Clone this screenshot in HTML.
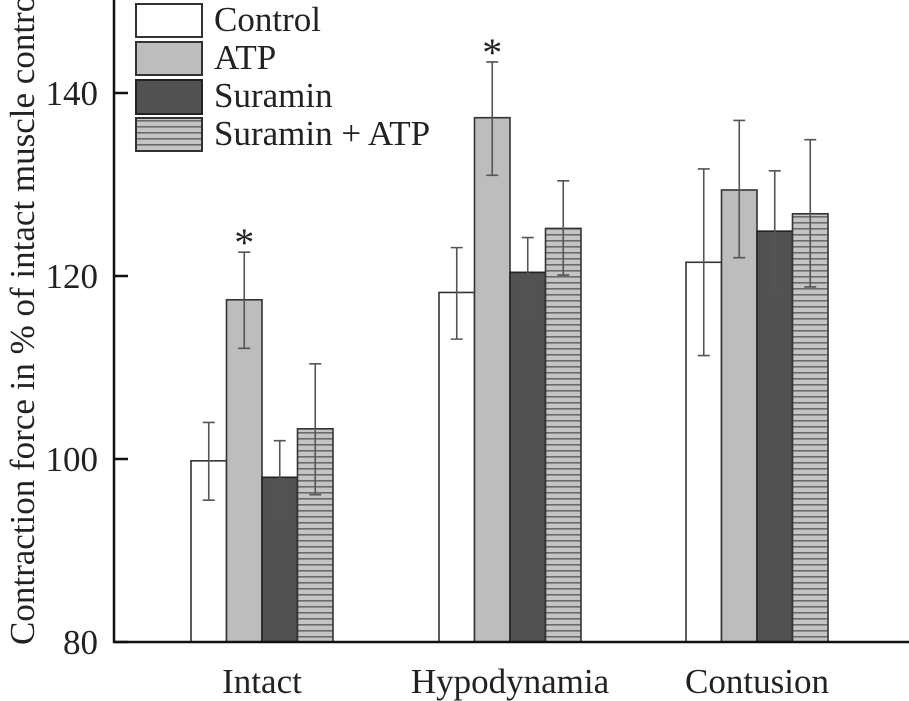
<!DOCTYPE html>
<html><head><meta charset="utf-8"><style>
html,body{margin:0;padding:0;background:#fff;}
svg{display:block;font-family:"Liberation Serif",serif;}
</style></head><body>
<svg width="909" height="701" viewBox="0 0 909 701">
<defs>
<pattern id="hatch" patternUnits="userSpaceOnUse" width="8" height="6">
<rect width="8" height="6" fill="#c4c4c4"/>
<rect y="0" width="8" height="1.6" fill="#6a6a6a"/>
</pattern>
</defs>
<g id="plot"></g>
<line x1="114" y1="0" x2="114" y2="643" stroke="#111" stroke-width="2.5"/>
<line x1="113" y1="642" x2="909" y2="642" stroke="#111" stroke-width="2.5"/>
<text transform="translate(34,645) rotate(-90)" font-size="35" fill="#222">Contraction force in % of intact muscle control</text>
<g>
<rect x="136" y="4" width="66" height="33" fill="#fff" stroke="#333" stroke-width="2"/>
<text x="214" y="31" font-size="35" fill="#222">Control</text>
<rect x="136" y="42" width="66" height="33" fill="#bdbdbd" stroke="#333" stroke-width="2"/>
<text x="214" y="69" font-size="35" fill="#222">ATP</text>
<rect x="136" y="80" width="66" height="34" fill="#525252" stroke="#222" stroke-width="2"/>
<text x="214" y="107" font-size="35" fill="#222">Suramin</text>
<rect x="136" y="118" width="66" height="33" fill="url(#hatch)" stroke="#333" stroke-width="2"/>
<text x="214" y="145" font-size="35" fill="#222">Suramin + ATP</text>
</g>
</svg>
<script>
const categories = ["Intact","Hypodynamia","Contusion"];
const seriesNames = ["Control","ATP","Suramin","Suramin + ATP"];
const controlVals = [99.8, 118.2, 121.5];
const atpVals = [117.4, 137.3, 129.4];
const suraminVals = [98.0, 120.4, 124.9];
const surAtpVals = [103.3, 125.2, 126.8];
const errLow = [[95.5,113.1,111.3],[112.1,131.0,122.0],[94.2,116.0,118.3],[96.1,120.1,118.8]];
const errHigh = [[104.0,123.1,131.7],[122.6,143.4,137.0],[102.0,124.2,131.5],[110.4,130.4,134.9]];
const yTicks = [80,100,120,140];
const stars = [[0,1],[1,1]];
const fills = ["#fff","#bdbdbd","#525252","url(#hatch)"];
const NS = "http://www.w3.org/2000/svg";
const svg = document.querySelector("svg");
const plot = document.getElementById("plot");
function y(v){ return 642 - (v-80)*(642-93)/60; }
const groupStart = [191, 439, 686], bw = 35.5;
function bx(g,s){ return groupStart[g] + s*bw; }
const series = [controlVals, atpVals, suraminVals, surAtpVals];
function mk(tag, attrs){ const e=document.createElementNS(NS,tag); for(const k in attrs) e.setAttribute(k,attrs[k]); return e; }
yTicks.forEach(t=>{
  const l = mk("line",{x1:114,x2:128,y1:y(t),y2:y(t),stroke:"#111","stroke-width":2.5});
  
  
  svg.appendChild(l);
  const tx = mk("text",{x:98,y:y(t)+12,"text-anchor":"end","font-size":35,fill:"#222"});
  
  
  tx.textContent = t;
  svg.appendChild(tx);
});
categories.forEach((c,g)=>{
  series.forEach((vals,s)=>{
    const x = bx(g,s), top = y(vals[g]);
    const r = mk("rect",{x:x,y:top,width:bw,height:642-top,fill:fills[s],stroke:s==2?"#222":"#333","stroke-width":1.6});
    
    
    plot.appendChild(r);
  });
  series.forEach((vals,s)=>{
    const cx = bx(g,s)+bw/2, lo=y(errLow[s][g]), hi=y(errHigh[s][g]);
    const e = mk("path",{d:`M${cx},${lo}V${hi}M${cx-6},${lo}H${cx+6}M${cx-6},${hi}H${cx+6}`,stroke:"#555","stroke-width":1.6,fill:"none"});
    
    
    plot.appendChild(e);
  });
  const lab = mk("text",{x:bx(g,2),y:693,"text-anchor":"middle","font-size":35,fill:"#222"});
  
  
  lab.textContent = c;
  svg.appendChild(lab);
});
stars.forEach(([g,s])=>{
  const t = mk("text",{x:bx(g,s)+bw/2,y:y(errHigh[s][g])+4,"text-anchor":"middle","font-size":40,fill:"#222"});
  
  
  t.textContent="*";
  svg.appendChild(t);
});
</script>
</body></html>
